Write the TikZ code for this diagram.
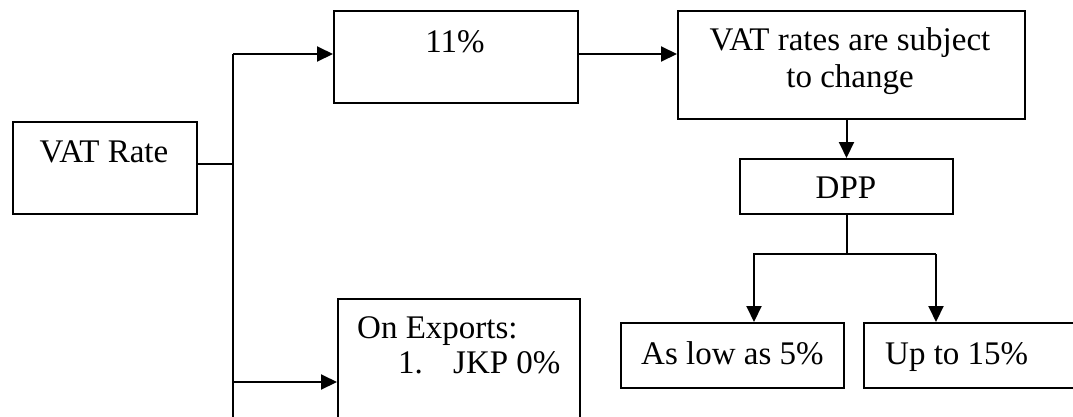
\documentclass[tikz,border=0pt]{standalone}
\usepackage{fontspec}
\setmainfont{Liberation Serif}
\usetikzlibrary{arrows.meta}
\begin{document}
\begin{tikzpicture}[x=1pt,y=-1pt,
  box/.style={draw,line width=2pt,anchor=north west,inner sep=0pt},
  conn/.style={line width=2pt},
  arr/.style={conn,-{Triangle[length=16pt,width=15pt]}},
  lbl/.style={font=\fontsize{33}{37}\selectfont,inner sep=0pt}]
\useasboundingbox (0,0) rectangle (1073,416);
\clip (0,0) rectangle (1073,416);
\fill[white] (0,0) rectangle (1073,416);
% boxes
\node[box,minimum width=184pt,minimum height=92pt] (vat) at (12,121) {};
\node[box,minimum width=244pt,minimum height=92pt] (p11) at (333,10) {};
\node[box,minimum width=347pt,minimum height=108pt] (chg) at (677,10) {};
\node[box,minimum width=213pt,minimum height=55pt] (dpp) at (739,158) {};
\node[box,minimum width=223pt,minimum height=65pt] (low) at (620,322) {};
\node[box,minimum width=222pt,minimum height=65pt] (up) at (863,322) {};
\node[box,minimum width=242pt,minimum height=142pt] (exp) at (337,298) {};
% texts
\node[lbl,anchor=base] (tvat) at (104,162) {VAT Rate};
\node[lbl,anchor=base] (t11) at (455,52) {11\%};
\node[lbl,anchor=base] (tchg1) at (850,50) {VAT rates are subject};
\node[lbl,anchor=base] (tchg2) at (850,87) {to change};
\node[lbl,anchor=base] (tdpp) at (846,198) {DPP};
\node[lbl,anchor=base west] (tlow) at (641,364) {As low as 5\%};
\node[lbl,anchor=base west] (tup) at (885,364) {Up to 15\%};
\node[lbl,anchor=base west] (texp1) at (357,338) {On Exports:};
\node[lbl,anchor=base west] (texp2) at (398,373) {1.};
\node[lbl,anchor=base west] (texp3) at (453,373) {JKP 0\%};
% connector coordinates
\coordinate (ttop) at (233,54);
\coordinate (tbot) at (233,420);
\coordinate (tvr) at (233,164);
\coordinate (texpa) at (233,382);
\coordinate (la) at (754,254);
\coordinate (ua) at (936,254);
% connectors
\draw[conn] (ttop) -- (tbot);
\draw[conn] (vat.east |- tvr) -- (tvr);
\draw[arr] (ttop) -- (p11.west |- ttop);
\draw[arr] (p11.east |- ttop) -- (chg.west |- ttop);
\draw[arr] (texpa) -- (exp.west |- texpa);
\draw[arr] (chg.south -| dpp.north) -- (dpp.north);
\draw[conn] (dpp.south) -- (dpp.south |- la);
\draw[arr,line join=miter] (ua) -- (la) -- (la |- low.north);
\draw[arr] (ua) -- (ua |- up.north);
\end{tikzpicture}
\end{document}
